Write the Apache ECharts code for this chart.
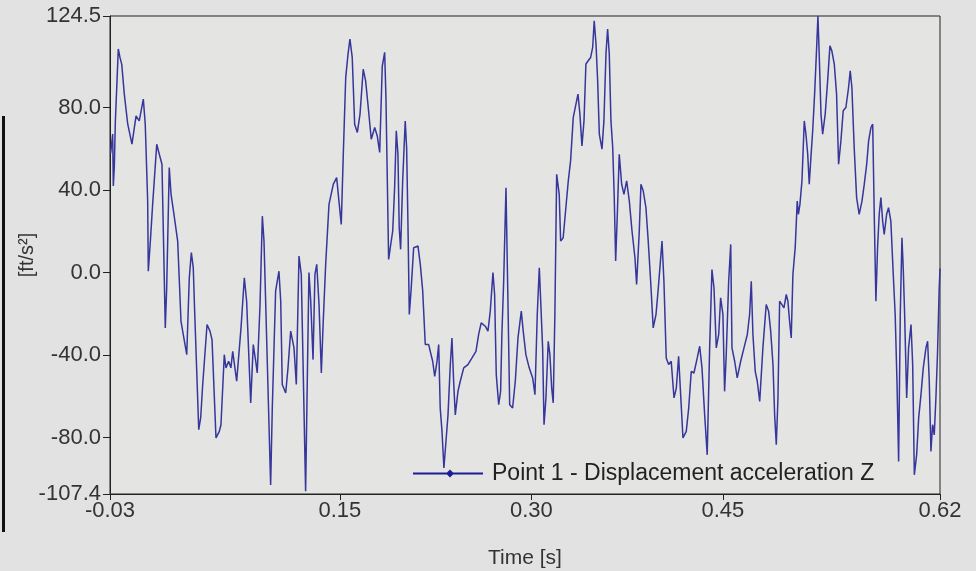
<!DOCTYPE html>
<html>
<head>
<meta charset="utf-8">
<script src="https://cdn.jsdelivr.net/npm/echarts@6/dist/echarts.min.js"></script>
<style>
html,body{margin:0;padding:0;background:#e2e2e2;}
#chart{width:976px;height:571px;}
</style>
</head>
<body>
<div id="chart"></div>
<script>
// Time samples [s] (turning points)
const times = [
-0.0295,-0.0279,-0.0274,-0.0266,-0.0258,-0.0235,-0.0222,-0.0208,-0.0188,-0.0161,-0.0128,-0.0096,-0.0071,-0.0039,-0.0024,-0.0005,0.0000,0.0016,0.0034,0.0066,0.0086,0.0107,0.0133,0.0144,0.0164,0.0178,0.0199,0.0230,0.0256,0.0301,0.0321,0.0337,0.0352,0.0363,0.0395,0.0410,0.0426,0.0460,0.0483,0.0499,0.0530,0.0556,0.0569,0.0595,0.0608,0.0629,0.0647,0.0661,0.0692,0.0726,0.0752,
0.0770,0.0802,0.0822,0.0841,0.0853,0.0875,0.0893,0.0906,0.0958,0.0971,0.0997,0.1023,0.1037,0.1049,0.1076,0.1094,0.1115,0.1141,0.1159,0.1180,0.1198,0.1232,0.1245,0.1258,0.1272,0.1290,0.1305,0.1319,0.1337,0.1355,0.1370,0.1389,0.1415,0.1449,0.1475,0.1493,0.1511,0.1527,0.1546,0.1564,0.1579,0.1597,0.1616,0.1637,0.1658,0.1683,0.1702,0.1720,0.1746,0.1773,0.1793,0.1812,0.1832,0.1851,
0.1861,0.1882,0.1895,0.1914,0.1929,0.1942,0.1955,0.1965,0.1976,0.1992,0.2012,0.2023,0.2033,0.2044,0.2059,0.2078,0.2112,0.2130,0.2149,0.2169,0.2196,0.2208,0.2227,0.2243,0.2261,0.2274,0.2286,0.2300,0.2315,0.2331,0.2347,0.2365,0.2378,0.2391,0.2404,0.2425,0.2443,0.2470,0.2503,0.2535,0.2566,0.2587,0.2607,0.2639,0.2660,0.2678,0.2699,0.2712,0.2725,0.2744,0.2759,0.2769,0.2783,0.2801,0.2816,0.2830,0.2853,0.2874,0.2895,0.2908,0.2921,
0.2936,0.2957,0.2983,0.3010,0.3028,0.3046,0.3062,0.3073,0.3088,0.3099,0.3114,0.3132,0.3145,0.3159,0.3171,0.3184,0.3198,0.3218,0.3229,0.3249,0.3270,0.3289,0.3307,0.3328,0.3349,0.3365,0.3380,0.3396,0.3412,0.3427,0.3445,0.3464,0.3480,0.3492,0.3506,0.3519,0.3532,0.3553,0.3568,0.3584,0.3597,0.3610,0.3623,0.3637,0.3649,0.3660,0.3673,0.3688,0.3707,0.3725,0.3746,0.3767,0.3788,0.3811,0.3824,0.3845,0.3858,0.3876,0.3897,0.3915,0.3934,0.3954,0.3976,0.3994,
0.4023,0.4038,0.4056,0.4075,0.4095,0.4117,0.4135,0.4153,0.4169,0.4187,0.4213,0.4232,0.4252,0.4273,0.4299,0.4318,0.4336,0.4357,0.4377,0.4396,0.4414,0.4430,0.4448,0.4467,0.4482,0.4500,0.4513,0.4526,0.4545,0.4561,0.4571,0.4592,0.4612,0.4639,0.4665,0.4691,0.4709,0.4722,0.4735,0.4753,0.4769,0.4788,0.4813,0.4839,0.4858,0.4874,0.4892,0.4905,0.4918,0.4931,0.4944,0.4962,0.4978,0.4996,0.5009,0.5022,0.5035,0.5048,0.5066,0.5082,
0.5091,0.5103,0.5119,0.5137,0.5150,0.5164,0.5176,0.5189,0.5203,0.5218,0.5234,0.5244,0.5254,0.5268,0.5281,0.5301,0.5320,0.5338,0.5353,0.5372,0.5390,0.5406,0.5424,0.5442,0.5463,0.5484,0.5497,0.5510,0.5528,0.5547,0.5567,0.5589,0.5607,0.5626,0.5641,0.5659,0.5673,0.5685,0.5698,0.5711,0.5724,0.5737,0.5751,0.5763,0.5782,0.5797,0.5815,0.5834,0.5849,0.5863,0.5876,0.5889,0.5902,0.5912,0.5923,0.5939,0.5954,0.5973,0.5986,0.5999,0.6017,0.6033,0.6051,0.6069,0.6090,0.6103,0.6116,0.6129,0.6142,0.6155,0.6168,0.6181,0.6193,0.6200
];
// Displacement acceleration Z [ft/s²]
const accel = [
58,67.2,42,51.7,73.6,108.5,104.4,101,86.6,72,62.3,76,73.6,84.2,72,34.7,0.7,15.3,33.1,62.3,57.4,52.6,-26.8,-7.4,51,38,29.1,15.3,-23.6,-39.8,-2.5,9.7,2.4,-18.7,-76.2,-70.5,-54.3,-25.2,-28.4,-32.5,-80.2,-77,-73.8,-39.8,-46.2,-43,-46.2,-38.2,-52.7,-26.8,-2.5,
-13.9,-63.2,-34.9,-43,-48.7,-15.5,27.4,15.3,-103,-65.7,-9,0.7,-13.9,-54.3,-58.4,-46.2,-28.4,-36.5,-54.3,8,-0.9,-106,-52.7,0,-13.9,-42.2,-0.9,4,-15.5,-48.7,-23.6,4,33.1,42.9,46.1,34.7,23.4,57.4,94.7,106,113.3,104.4,72,68,76.9,98.7,93,81.7,64.7,70.4,66.3,58.3,100,106.9,
85,6.4,12.1,20.2,41.2,68.8,57.4,21.8,11.3,44.5,73.6,60.7,25,-20.3,-7.4,12.1,12.9,4,-9,-34.9,-34.9,-38.2,-43,-50.3,-43,-34.9,-65.7,-77,-94.8,-81.9,-69,-44.6,-31.7,-52.7,-69,-57.6,-52.7,-46.2,-44.6,-41.4,-38.2,-30,-24.4,-26,-28.4,-18.7,0,-10.6,-49.5,-64.1,-57.6,-30,-4.2,41.2,-12.2,-64.1,-65.7,-52.7,-31.7,-25.2,-18.7,
-28.4,-39.8,-46.2,-51.1,-59.2,-20.3,2.4,-13.9,-36.5,-73.8,-60.8,-33.3,-39.8,-56,-63.2,-20.3,47.7,38,15.3,16.9,31.5,44.5,54.2,75.3,81.7,86.6,76.9,61.5,73.6,101.2,102.8,104.4,109.3,122.2,110.9,93,67.2,59.9,73.6,106,118.2,106,73.6,60.7,36.4,5.6,28.3,57.4,42.9,38,44.5,34.7,20.2,7.2,-5.7,20.2,42.9,39.6,31.5,15.3,-4.2,-26.8,-20.3,-7.4,
15.3,-4.2,-41.4,-44.6,-43,-60.8,-56,-40.6,-59.2,-80.2,-77,-65.7,-47.9,-48.7,-41.4,-35.7,-46.2,-69,-88.4,-36.5,1.5,-7.4,-36.5,-30,-12.2,-20.3,-57.6,-39.8,-4.2,13.7,-36.5,-43,-51.1,-43,-36.5,-30,-20.3,-4.2,-30,-47.9,-52.7,-62.5,-36.5,-15.5,-18.7,-28.4,-44.6,-69,-83.5,-60.8,-13.9,-15.5,-17.1,-10.6,-13.9,-23.6,-31.7,-0.9,12.1,34.7,
28.3,33.1,44.5,73.6,67.2,57.4,42.9,55.8,68.8,86.6,109.3,124.5,106,76.9,67.2,76.9,93,110,107.6,101.2,86.6,52.6,63.9,78.5,80.1,89.8,97.9,89.8,60.7,36.4,28.3,34.7,42.9,52.6,63.9,70.4,72,28.3,-13.9,12.1,28.3,36.4,25,18.5,28.3,31.5,25,-0.9,-20.3,-52.7,-91.6,-20.3,16.9,2.4,-20.3,-60.8,-36.5,-25.2,-44.6,-98.1,-88.4,-70.5,-59.2,-46.2,-36.5,-33.3,-52.7,-86.8,-73.8,-78.7,-60.8,-38.2,-9,2
];
// Axis tick values
const xTicks = [-0.03, 0.15, 0.30, 0.45, 0.62];
const yTicks = [-107.4, -80, -40, 0, 40, 80, 124.5];

const seriesName = 'Point 1 - Displacement acceleration Z';
const data = times.map((t, i) => [t, accel[i]]);

const chart = echarts.init(document.getElementById('chart'), null, {renderer: 'canvas'});
const font = 'Liberation Sans, Arial, sans-serif';
chart.setOption({
  backgroundColor: '#e2e2e2',
  animation: false,
  grid: {left: 110, right: 36, top: 16, bottom: 77, show: true, outerBoundsMode: 'none',
         backgroundColor: '#e4e4e2', borderColor: '#222', borderWidth: 1},
  legend: {
    left: 408, top: 457,
    itemWidth: 70, itemHeight: 14, itemGap: 10,
    textStyle: {fontSize: 23, color: '#222', fontFamily: font, padding: [0, 0, 0, 4]},
    data: [{name: seriesName, icon: 'path://M0,6 L70,6 L70,8 L0,8 Z M37,3 L41,7 L37,11 L33,7 Z'}],
    itemStyle: {color: '#1c1c96'}
  },
  xAxis: {
    type: 'value', min: -0.03, max: 0.62,
    name: 'Time [s]', nameLocation: 'middle', nameGap: 54, nameMoveOverlap: false,
    nameTextStyle: {fontSize: 21, color: '#333', fontFamily: font},
    axisLine: {show: true, onZero: false, lineStyle: {color: '#222', width: 1}},
    axisTick: {show: true, length: 6, inside: false, customValues: xTicks, lineStyle: {color: '#222'}},
    axisLabel: {customValues: xTicks, fontSize: 22, color: '#333', fontFamily: font, margin: 6,
                formatter: v => v.toFixed(2)},
    splitLine: {show: false}
  },
  yAxis: {
    type: 'value', min: -107.4, max: 124.5,
    name: '[ft/s²]', nameLocation: 'middle', nameGap: 73, nameRotate: 90, nameMoveOverlap: false,
    nameTextStyle: {fontSize: 20, color: '#333', fontFamily: font},
    axisLine: {show: true, onZero: false, lineStyle: {color: '#222', width: 1}},
    axisTick: {show: true, length: 7, inside: false, customValues: yTicks, lineStyle: {color: '#222'}},
    axisLabel: {customValues: yTicks, fontSize: 22, color: '#333', fontFamily: font, margin: 9,
                formatter: v => v.toFixed(1)},
    splitLine: {show: false}
  },
  series: [{
    name: seriesName,
    type: 'line',
    data: data,
    showSymbol: false,
    symbol: 'circle',
    lineStyle: {color: '#36369c', width: 1.5},
    itemStyle: {color: '#1c1c96'},
    clip: true
  }],
  graphic: [{
    type: 'rect', left: 2, top: 116,
    shape: {width: 3, height: 416},
    style: {fill: '#111'}
  }]
});
</script>
</body>
</html>
